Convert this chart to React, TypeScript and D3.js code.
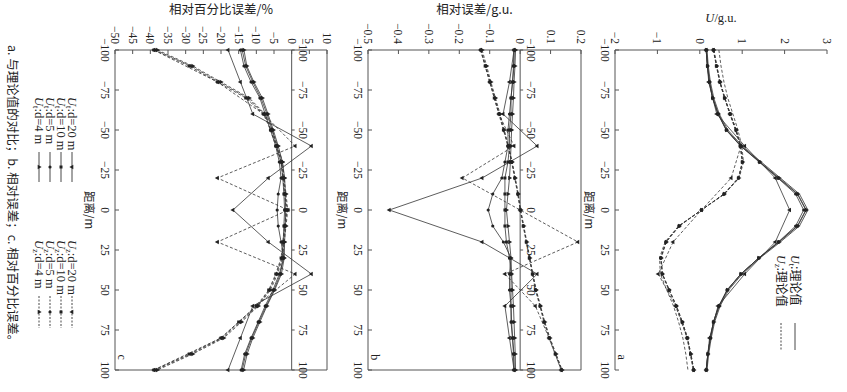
import React from 'react';
import * as d3 from 'd3';

// distances (m)
const dist10 = [-100, -90, -80, -70, -60, -50, -40, -30, -20, -10, 0, 10, 20, 30, 40, 50, 60, 70, 80, 90, 100];
const dist20 = [-100, -80, -60, -40, -20, 0, 20, 40, 60, 80, 100];
const distTicks = [-100, -75, -50, -25, 0, 25, 50, 75, 100];

// a: U (g.u.)
const uTheoryT = [0.17, 0.2, 0.25, 0.33, 0.46, 0.66, 1.0, 1.45, 1.9, 2.35, 2.55, 2.35, 1.9, 1.42, 1.0, 0.68, 0.48, 0.35, 0.27, 0.21, 0.17];
const uTheoryZ = [0.45, 0.5, 0.57, 0.66, 0.78, 0.9, 0.99, 1.03, 0.93, 0.58, 0.04, -0.5, -0.82, -0.95, -0.93, -0.78, -0.62, -0.5, -0.4, -0.33, -0.28];
const uT20 = [0.15, 0.21, 0.4, 1.06, 1.78, 2.12, 1.78, 1.06, 0.43, 0.23, 0.15];
const uT10 = [0.15, 0.18, 0.23, 0.3, 0.43, 0.63, 0.97, 1.41, 1.85, 2.3, 2.5, 2.3, 1.86, 1.39, 0.97, 0.65, 0.45, 0.32, 0.25, 0.19, 0.15];
const uT5 = [0.15, 0.18, 0.22, 0.3, 0.43, 0.62, 0.96, 1.4, 1.84, 2.26, 2.45, 2.26, 1.85, 1.39, 0.97, 0.64, 0.45, 0.32, 0.25, 0.19, 0.15];
const uT4 = [0.16, 0.18, 0.23, 0.31, 0.44, 0.63, 0.97, 1.42, 1.87, 2.31, 2.51, 2.31, 1.87, 1.39, 0.97, 0.65, 0.46, 0.33, 0.25, 0.19, 0.16];
const uZ20 = [0.32, 0.47, 0.71, 0.97, 0.74, 0.04, -0.63, -0.98, -0.57, -0.3, -0.15];
const uZ10 = [0.32, 0.39, 0.47, 0.58, 0.71, 0.85, 0.95, 1.0, 0.91, 0.57, 0.04, -0.49, -0.8, -0.92, -0.89, -0.73, -0.56, -0.42, -0.3, -0.22, -0.15];
const uZ5 = [0.33, 0.4, 0.48, 0.59, 0.72, 0.86, 0.96, 1.01, 0.91, 0.57, 0.04, -0.49, -0.8, -0.92, -0.88, -0.72, -0.55, -0.41, -0.29, -0.21, -0.14];
const uZ4 = [0.33, 0.4, 0.48, 0.59, 0.72, 0.86, 0.96, 1.01, 0.92, 0.58, 0.04, -0.48, -0.79, -0.91, -0.88, -0.72, -0.55, -0.41, -0.29, -0.21, -0.14];

// b: relative error (g.u.)
const errT20 = [-0.02, -0.035, -0.056, 0.056, -0.125, -0.43, -0.125, 0.056, -0.05, -0.035, -0.02];
const errT10 = [-0.02, -0.022, -0.025, -0.03, -0.03, -0.035, -0.035, -0.04, -0.05, -0.05, -0.05, -0.05, -0.045, -0.035, -0.03, -0.03, -0.03, -0.028, -0.025, -0.022, -0.02];
const errT5 = [-0.02, -0.02, -0.025, -0.03, -0.035, -0.04, -0.04, -0.05, -0.06, -0.09, -0.105, -0.09, -0.055, -0.03, -0.035, -0.035, -0.03, -0.03, -0.025, -0.02, -0.02];
const errT4 = [-0.015, -0.017, -0.02, -0.022, -0.025, -0.028, -0.03, -0.032, -0.035, -0.04, -0.045, -0.04, -0.035, -0.03, -0.028, -0.025, -0.022, -0.02, -0.018, -0.016, -0.015];
const errZ20 = [-0.13, -0.1, -0.07, -0.02, -0.19, 0.0, 0.19, -0.05, 0.05, 0.095, 0.135];
const errZ10 = [-0.13, -0.115, -0.1, -0.085, -0.07, -0.055, -0.04, -0.028, -0.018, -0.008, 0, 0.01, 0.02, 0.03, 0.04, 0.05, 0.065, 0.078, 0.095, 0.115, 0.135];
const errZ5 = [-0.128, -0.113, -0.098, -0.083, -0.068, -0.054, -0.04, -0.027, -0.017, -0.007, 0.001, 0.011, 0.021, 0.031, 0.041, 0.052, 0.066, 0.08, 0.097, 0.117, 0.137];
const errZ4 = [-0.125, -0.11, -0.096, -0.081, -0.066, -0.052, -0.038, -0.026, -0.016, -0.006, 0.002, 0.012, 0.022, 0.032, 0.042, 0.053, 0.067, 0.081, 0.098, 0.118, 0.138];

// c: relative percent error (%)
const pctT20 = [-18, -14.5, -11, 5.6, -6.6, -16.6, -6.6, 5.6, -11, -14.5, -18];
const pctT10 = [-14, -13, -11, -8.7, -7, -5.5, -4.2, -3, -2.5, -2.2, -2, -2.2, -2.4, -2.5, -3.2, -5, -7.2, -9.3, -11.3, -13, -14];
const pctT5 = [-14.5, -13.5, -11.5, -9, -7.5, -6, -4.5, -3.5, -3, -3.8, -4.1, -3.8, -3, -2.2, -3.5, -5.3, -7.5, -9.5, -11.5, -13.3, -14.3];
const pctT4 = [-13.5, -12.7, -10.7, -8.3, -6.7, -5.2, -3.8, -2.6, -2, -1.8, -1.7, -1.8, -2, -2.1, -2.9, -4.8, -7, -9, -11, -12.6, -13.6];
const pctZ20 = [-39, -21, -8, 1, -21, -1, -21, 1, -10, -20, -39];
const pctZ10 = [-39, -29, -21, -13, -8, -6, -4.5, -3, -2.5, -2, -1.5, -2, -2.5, -3, -4.5, -6.5, -10, -15, -20, -29, -39];
const pctZ5 = [-38.5, -28.5, -20.5, -12.5, -7.8, -5.8, -4.3, -2.8, -2.3, -1.8, -1.3, -1.8, -2.3, -2.8, -4.3, -6.3, -9.7, -14.6, -19.6, -28.5, -38.5];
const pctZ4 = [-38, -28, -20, -12, -7.5, -5.5, -4, -2.6, -2.1, -1.6, -1.1, -1.6, -2.1, -2.6, -4, -6, -9.4, -14.2, -19.2, -28, -38];

const dLabels = ['20', '10', '5', '4'];
const markers = ['down', 'square', 'circle', 'up'];

const ink = '#333';
const serif = 'Liberation Serif, DejaVu Serif, serif';
const cjk = 'Noto Sans CJK SC, serif';

// distance runs down the page (figure is turned 90 degrees)
const y = d3.scaleLinear().domain([-100, 100]).range([50, 370]);

function Marker({ kind, cx, cy }) {
  const type = kind === 'circle' ? d3.symbolCircle : kind === 'square' ? d3.symbolSquare : d3.symbolTriangle;
  const rot = kind === 'down' ? 270 : 90;
  const p = d3.symbol().type(type).size(kind === 'circle' ? 8 : 9)();
  return <path d={p} transform={`translate(${cx},${cy}) rotate(${rot})`} fill="#222" />;
}

function Series({ x, ds, vs, dashed, marker }) {
  const pts = ds.map((d, i) => [x(vs[i]), y(d)]);
  const line = d3.line()(pts);
  return (
    <g>
      <path d={line} fill="none" stroke={ink} strokeWidth={0.8} strokeDasharray={dashed ? '3,2' : null} />
      {marker && pts.map((p, i) => <Marker key={i} kind={marker} cx={p[0]} cy={p[1]} />)}
    </g>
  );
}

function Panel({ x, ticks, fmt, title, titleY, letter, box, zero, children }) {
  const [x0, x1] = x.range();
  const top = y(-100), bot = y(100);
  const lab = (t) => String(t).replace('-', '−');
  return (
    <g>
      <line x1={x0} x2={x1} y1={top} y2={top} stroke="#555" />
      <line x1={x0} x2={x0} y1={top} y2={bot} stroke="#555" />
      {box && <line x1={x1} x2={x1} y1={top} y2={bot} stroke="#555" />}
      {box && <line x1={x0} x2={x1} y1={bot} y2={bot} stroke="#555" />}
      {zero && <line x1={x(0)} x2={x(0)} y1={top} y2={bot} stroke="#555" />}
      {ticks.map(t => (
        <g key={t}>
          <line x1={x(t)} x2={x(t)} y1={top} y2={top + 4} stroke="#555" />
          <text transform={`translate(${x(t)},${top - 6}) rotate(90)`} dy="0.35em" textAnchor="end"
            fontFamily={serif} fontSize={11.5} fill="#222">{fmt(t)}</text>
        </g>
      ))}
      {distTicks.map(t => (
        <g key={t}>
          <line x1={x0} x2={x0 + 4} y1={y(t)} y2={y(t)} stroke="#555" />
          <text transform={`translate(${x0 - 10},${y(t)}) rotate(90)`} dy="0.35em" textAnchor="middle"
            fontFamily={serif} fontSize={11.5} fill="#222">{lab(t)}</text>
          {zero && <line x1={x(0)} x2={x(0) + 3} y1={y(t)} y2={y(t)} stroke="#555" />}
          {zero && (
            <text transform={`translate(${x(0) + 11},${y(t)}) rotate(90)`} dy="0.35em" textAnchor="middle"
              fontFamily={serif} fontSize={11.5} fill="#222">{lab(t)}</text>
          )}
        </g>
      ))}
      <text x={(x0 + x1) / 2} y={titleY} textAnchor="middle" fontSize={12.5} fill="#222" fontFamily={cjk}>{title}</text>
      <text transform={`translate(${x0 - 26},${y(0)}) rotate(90)`} dy="0.35em" textAnchor="middle"
        fontSize={11.5} fill="#222" fontFamily={cjk}>距离/m</text>
      <text transform={`translate(${x0 + 7},${y(92)}) rotate(90)`} dy="0.35em" textAnchor="middle"
        fontFamily={serif} fontSize={12} fill="#222">{letter}</text>
      {children}
    </g>
  );
}

function LegendEntry({ cx, y0, y1, y2, sub, label, dashed, marker, isCjk }) {
  return (
    <g>
      <text transform={`translate(${cx},${y0}) rotate(90)`} dy="0.35em" fontSize={isCjk ? 12 : 12.5}
        fontFamily={isCjk ? cjk : serif} fill="#222">
        <tspan fontStyle="italic" fontFamily={serif}>U</tspan>
        <tspan fontSize={8.5} dy={2} fontFamily={serif}>{sub}</tspan>
        <tspan dy={-2}>{label}</tspan>
      </text>
      <line x1={cx} x2={cx} y1={y1} y2={y2} stroke={ink} strokeWidth={0.9} strokeDasharray={dashed ? '2,1.5' : null} />
      {marker && <Marker kind={marker} cx={cx} cy={(y1 + y2) / 2} />}
    </g>
  );
}

export default function App() {
  const xa = d3.scaleLinear().domain([-2, 3]).range([615, 827]);
  const xb = d3.scaleLinear().domain([-0.5, 0.2]).range([368, 581]);
  const xc = d3.scaleLinear().domain([-50, 10]).range([115, 327]);
  const minus = (s: string) => s.replace('-', '−');

  const uT = [uT10, uT5, uT4];
  const uZ = [uZ10, uZ5, uZ4];
  const eT = [errT10, errT5, errT4];
  const eZ = [errZ10, errZ5, errZ4];
  const pT = [pctT10, pctT5, pctT4];
  const pZ = [pctZ10, pctZ5, pctZ4];

  const legendX = [72, 61, 50, 39];

  return (
    <svg width={847} height={392} style={{ display: 'block', position: 'absolute', left: 0, top: 0, background: '#fff' }}>
      {/* panel a */}
      <Panel x={xa} ticks={[-2, -1, 0, 1, 2, 3]} fmt={t => minus(String(t))} titleY={22} letter="a" box={false} zero={false}
        title={<><tspan fontStyle="italic" fontFamily={serif}>U</tspan><tspan fontFamily={serif}>/g.u.</tspan></>}>
        <Series x={xa} ds={dist10} vs={uTheoryT} />
        <Series x={xa} ds={dist10} vs={uTheoryZ} dashed />
        <Series x={xa} ds={dist20} vs={uT20} marker={markers[0]} />
        {uT.map((v, i) => <Series key={'t' + i} x={xa} ds={dist10} vs={v} marker={markers[i + 1]} />)}
        <Series x={xa} ds={dist20} vs={uZ20} dashed marker={markers[0]} />
        {uZ.map((v, i) => <Series key={'z' + i} x={xa} ds={dist10} vs={v} dashed marker={markers[i + 1]} />)}
        <LegendEntry cx={795} y0={255} y1={323} y2={350} sub="t" label=":理论值" isCjk />
        <LegendEntry cx={781} y0={255} y1={323} y2={350} sub="z" label=":理论值" isCjk dashed />
      </Panel>

      {/* panel b */}
      <Panel x={xb} ticks={[-0.5, -0.4, -0.3, -0.2, -0.1, 0, 0.1, 0.2]} fmt={t => (t === 0 ? '0' : minus(d3.format('.1f')(t)))}
        titleY={14} letter="b" box zero title="相对误差/g.u.">
        <Series x={xb} ds={dist20} vs={errT20} marker={markers[0]} />
        {eT.map((v, i) => <Series key={'t' + i} x={xb} ds={dist10} vs={v} marker={markers[i + 1]} />)}
        <Series x={xb} ds={dist20} vs={errZ20} dashed marker={markers[0]} />
        {eZ.map((v, i) => <Series key={'z' + i} x={xb} ds={dist10} vs={v} dashed marker={markers[i + 1]} />)}
      </Panel>

      {/* panel c */}
      <Panel x={xc} ticks={d3.range(-50, 11, 5)} fmt={t => minus(String(t))} titleY={14} letter="c" box zero
        title="相对百分比误差/%">
        <Series x={xc} ds={dist20} vs={pctT20} marker={markers[0]} />
        {pT.map((v, i) => <Series key={'t' + i} x={xc} ds={dist10} vs={v} marker={markers[i + 1]} />)}
        <Series x={xc} ds={dist20} vs={pctZ20} dashed marker={markers[0]} />
        {pZ.map((v, i) => <Series key={'z' + i} x={xc} ds={dist10} vs={v} dashed marker={markers[i + 1]} />)}
      </Panel>

      {/* legends in c */}
      {dLabels.map((d, i) => (
        <LegendEntry key={'lt' + d} cx={legendX[i]} y0={97} y1={152} y2={182} sub="t" label={`:d=${d} m`} marker={markers[i]} />
      ))}
      {dLabels.map((d, i) => (
        <LegendEntry key={'lz' + d} cx={legendX[i]} y0={240} y1={296} y2={328} sub="z" label={`:d=${d} m`} marker={markers[i]} dashed />
      ))}

      {/* caption */}
      <text transform="translate(12,45) rotate(90)" dy="0.35em" fontSize={12.5} fill="#222" fontFamily={cjk}>
        a. 与理论值的对比；b. 相对误差；c. 相对百分比误差。
      </text>
    </svg>
  );
}
